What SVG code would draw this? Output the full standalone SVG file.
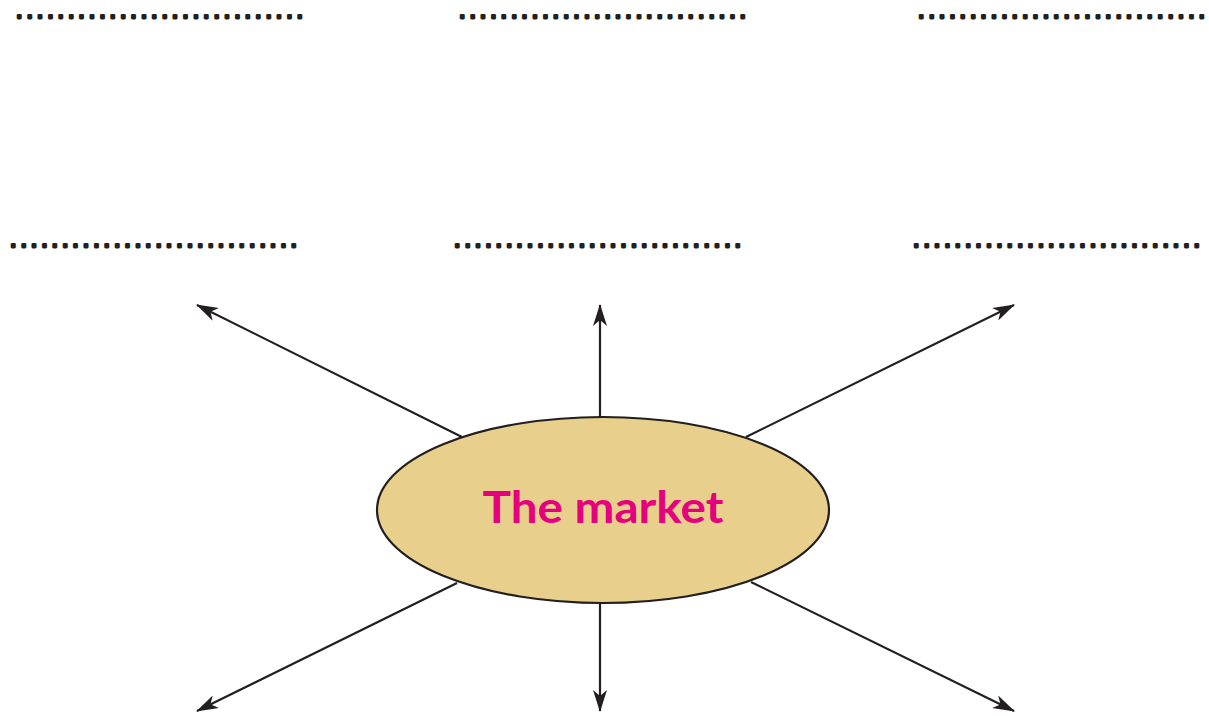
<svg xmlns="http://www.w3.org/2000/svg" width="1209" height="716" viewBox="0 0 1209 716">
<style>
.dots{font-family:"Liberation Sans",Arial,sans-serif;font-weight:bold;font-size:16px;fill:#231f20;stroke:#231f20;stroke-width:2.8;stroke-linejoin:round}
.conn{stroke:#231f20;stroke-width:2.2;fill:none;marker-end:url(#ah)}
.label{font-family:"Comic Sans MS","Lato","Open Sans",sans-serif;font-weight:bold;font-size:43px;fill:#e5007e}
</style>
<defs>
<marker id="ah" viewBox="0 0 22 14" refX="21" refY="7" markerWidth="22" markerHeight="14" markerUnits="userSpaceOnUse" orient="auto">
<path d="M0,0 L22,7 L0,14 L6,7 z" fill="#231f20"/>
</marker>
</defs>
<rect width="1209" height="716" fill="#ffffff"/>
<g id="blanks">
<text class="dots" x="17" y="17.5" textLength="285" lengthAdjust="spacing">............................</text>
<text class="dots" x="460" y="17.5" textLength="285" lengthAdjust="spacing">............................</text>
<text class="dots" x="919" y="17.5" textLength="285" lengthAdjust="spacing">............................</text>
<text class="dots" x="11" y="246.5" textLength="285" lengthAdjust="spacing">............................</text>
<text class="dots" x="455" y="246.5" textLength="285" lengthAdjust="spacing">............................</text>
<text class="dots" x="914" y="246.5" textLength="285" lengthAdjust="spacing">............................</text>
</g>
<g id="connectors">
<line class="conn" x1="462" y1="437" x2="197" y2="305"/>
<line class="conn" x1="600" y1="417" x2="600" y2="305"/>
<line class="conn" x1="746" y1="437" x2="1014" y2="305"/>
<line class="conn" x1="457" y1="583" x2="197" y2="711"/>
<line class="conn" x1="600" y1="604" x2="600" y2="711"/>
<line class="conn" x1="751" y1="582" x2="1014" y2="711"/>
</g>
<g id="market">
<ellipse cx="603" cy="510" rx="226" ry="93" fill="#e8d08c" stroke="#231f20" stroke-width="2.2"/>
<text class="label" x="603" y="523" text-anchor="middle" textLength="241" lengthAdjust="spacingAndGlyphs">The market</text>
</g>
</svg>
